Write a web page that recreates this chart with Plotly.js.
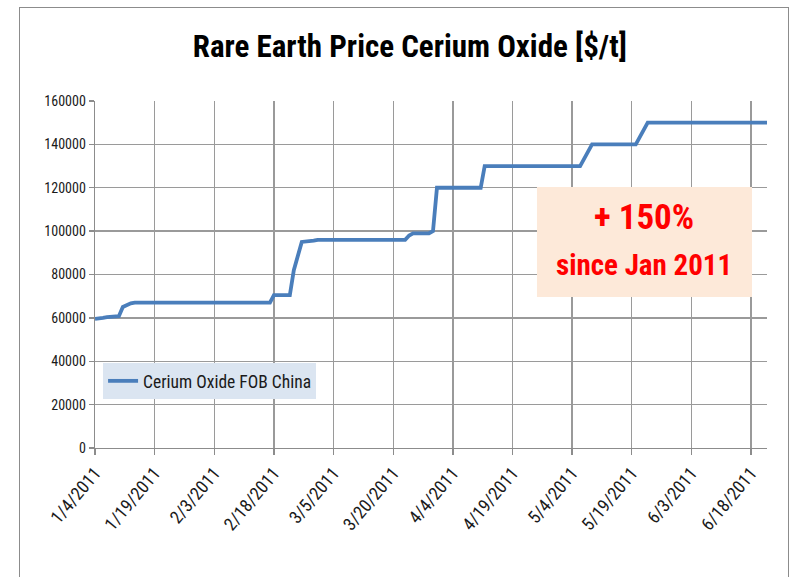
<!DOCTYPE html>
<html>
<head>
<meta charset="utf-8">
<script src="https://cdn.plot.ly/plotly-3.0.1.min.js"></script>
<style>
  html, body { margin: 0; padding: 0; background: #ffffff; }
  #chart { position: absolute; left: 0; top: 0; width: 802px; height: 577px; }
  #frame { position: absolute; left: 19px; top: 7px; width: 768px; height: 620px;
           border: 1px solid #8c8c8c; pointer-events: none; }
</style>
</head>
<body>
<div id="chart"></div>
<div id="frame"></div>
<script>
// ---- data ----
const dates = [
  '2011-01-04','2011-01-05','2011-01-06','2011-01-07','2011-01-10','2011-01-11',
  '2011-01-12','2011-01-13','2011-01-14','2011-01-21','2011-01-31','2011-02-08',
  '2011-02-17','2011-02-18','2011-02-22','2011-02-23','2011-02-24','2011-02-25',
  '2011-02-28','2011-03-01','2011-03-10','2011-03-23','2011-03-24','2011-03-25',
  '2011-03-29','2011-03-30','2011-03-31','2011-04-05','2011-04-11','2011-04-12',
  '2011-04-20','2011-04-28','2011-05-06','2011-05-09','2011-05-16','2011-05-20',
  '2011-05-23','2011-06-01','2011-06-10','2011-06-22'
];
const prices = [
  59500, 59600, 60000, 60300, 60800, 65000,
  66000, 66700, 67000, 67000, 67000, 67000,
  67000, 70500, 70500, 82000, 89000, 95000,
  95600, 96000, 96000, 96000, 98000, 99000,
  99000, 100000, 120000, 120000, 120000, 130000,
  130000, 130000, 130000, 140000, 140000, 140000,
  150000, 150000, 150000, 150000
];
const seriesName = 'Cerium Oxide FOB China';
const chartTitle = 'Rare Earth Price Cerium Oxide [$/t]';
const noteLine1 = '+ 150%';
const noteLine2 = 'since Jan 2011';
const xStart = '2011-01-04';
const xEnd = '2011-06-22';
const yMax = 160000;

const FONT = 'Liberation Sans Narrow, Arial Narrow, Roboto Condensed, Liberation Sans, sans-serif';
const DAY = 86400000;

const trace = {
  x: dates, y: prices, type: 'scatter', mode: 'lines', name: seriesName,
  line: { color: '#4a7ebb', width: 3.8 }
};

const layout = {
  width: 802, height: 577,
  paper_bgcolor: '#ffffff', plot_bgcolor: '#ffffff',
  margin: { l: 95, r: 35, t: 101, b: 129 },
  font: { family: FONT, color: '#1a1a1a', size: 13 },
  title: {
    text: '<b>' + chartTitle + '</b>',
    font: { family: FONT, size: 31, color: '#000000' },
    x: 0.511, xanchor: 'center', y: 1 - 46/577, yanchor: 'middle', yref: 'container'
  },
  xaxis: {
    type: 'date', range: [xStart, xEnd], tick0: xStart, dtick: 15*DAY,
    tickformat: '%-m/%-d/%Y', tickangle: -50,
    showgrid: true, gridcolor: '#9a9a9a', gridwidth: 1.4,
    showline: true, linecolor: '#8c8c8c', linewidth: 1.4,
    ticks: 'outside', ticklen: 6, tickcolor: '#8c8c8c', tickwidth: 1.4,
    tickfont: { family: FONT, size: 18, color: '#1a1a1a' },
    zeroline: false, fixedrange: true
  },
  yaxis: {
    range: [0, yMax], dtick: 20000, tickformat: 'd',
    showgrid: true, gridcolor: '#9a9a9a', gridwidth: 1.4,
    showline: true, linecolor: '#8c8c8c', linewidth: 1.4,
    ticks: 'outside', ticklen: 5, tickcolor: '#8c8c8c', tickwidth: 1.4,
    tickfont: { family: FONT, size: 14, color: '#1a1a1a' },
    zeroline: false, fixedrange: true
  },
  showlegend: true,
  legend: {
    x: 0.012, y: 0.245, xanchor: 'left', yanchor: 'top',
    bgcolor: '#dbe5f1', borderwidth: 0,
    font: { family: FONT, size: 17.5, color: '#1a1a1a' },
    itemwidth: 30
  },
  shapes: [{
    type: 'rect', xref: 'paper', yref: 'paper',
    x0: 0.6577, x1: 0.9777, y0: 0.435, y1: 0.752,
    fillcolor: '#fde9d9', line: { width: 0 }, layer: 'above'
  }],
  annotations: [
    { xref: 'paper', yref: 'paper', x: 0.8177, y: 0.663, xanchor: 'center', yanchor: 'middle',
      showarrow: false,
      text: '<b>' + noteLine1 + '</b>', font: { family: FONT, size: 35, color: '#ff0000' } },
    { xref: 'paper', yref: 'paper', x: 0.8177, y: 0.527, xanchor: 'center', yanchor: 'middle',
      showarrow: false,
      text: '<b>' + noteLine2 + '</b>', font: { family: FONT, size: 29, color: '#ff0000' } }
  ]
};

Plotly.newPlot('chart', [trace], layout, { displayModeBar: false, staticPlot: true });
</script>
</body>
</html>
